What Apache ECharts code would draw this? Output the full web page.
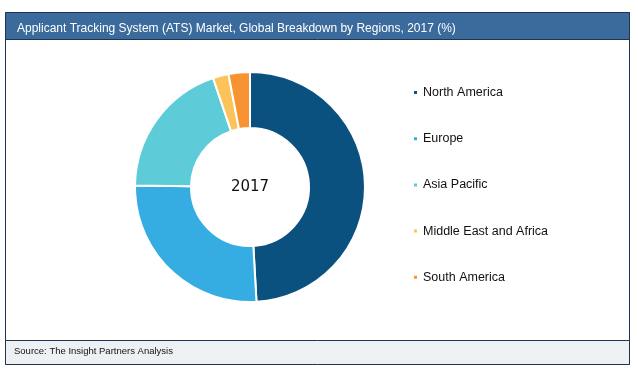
<!DOCTYPE html>
<html>
<head>
<meta charset="utf-8">
<script src="https://cdn.jsdelivr.net/npm/echarts@6/dist/echarts.min.js"></script>
<style>
  html, body { margin: 0; padding: 0; background: #fff; }
  #main { width: 638px; height: 376px; }
</style>
</head>
<body>
<div id="main"></div>
<script>
// regions and their share (%) in 2017
var regions = ['North America', 'Europe', 'Asia Pacific', 'Middle East and Africa', 'South America'];
var shares = [49.1, 26.1, 19.6, 2.2, 3.0];
var colors = ['#0b5180', '#36ade2', '#5dccd8', '#fcc35b', '#f79431'];

var chart = echarts.init(document.getElementById('main'));

var pieData = [];
for (let i = 0; i < regions.length; i++) {
  pieData.push({ name: regions[i], value: shares[i] })
}

var option = {
  animation: false,
  color: colors,
  title: {
    text: 'Applicant Tracking System (ATS) Market, Global Breakdown by Regions, 2017 (%)',
    left: 12,
    top: 18,
    textStyle: {
      color: '#fff',
      fontSize: 12,
      fontWeight: 'normal',
      fontFamily: 'Liberation Sans, Arial'
    }
  },
  graphic: [
    // outer frame
    {
      type: 'rect', z: -10,
      shape: { x: 5.5, y: 12.5, width: 624, height: 352 },
      style: { fill: '#fff', stroke: '#1d3550', lineWidth: 1 }
    },
    // title bar
    {
      type: 'rect', z: -9,
      shape: { x: 5.5, y: 12.5, width: 624, height: 27 },
      style: { fill: '#3b6b9c', stroke: '#1d3550', lineWidth: 1 }
    },
    // footer
    {
      type: 'rect', z: -9,
      shape: { x: 5.5, y: 340.5, width: 624, height: 24 },
      style: { fill: '#eef1f4', stroke: '#1d3550', lineWidth: 1 }
    },
    {
      type: 'text', z: 10,
      left: 14, top: 346,
      style: {
        text: 'Source: The Insight Partners Analysis',
        fill: '#111',
        font: '9.5px "Liberation Sans", Arial'
      }
    },
    {
      type: 'text', z: 10,
      x: 250, y: 187,
      style: {
        text: '2017',
        textAlign: 'center',
        textVerticalAlign: 'middle',
        fill: '#111',
        font: '15px "DejaVu Sans", Verdana, sans-serif'
      }
    }
  ],
  legend: {
    orient: 'vertical',
    left: 412,
    top: 86,
    padding: 0,
    icon: 'rect',
    itemWidth: 5,
    itemHeight: 5,
    itemGap: 33.2,
    textStyle: {
      fontSize: 12.5,
      color: '#111',
      fontFamily: 'Liberation Sans, Arial'
    },
    data: regions
  },
  series: [{
    type: 'pie',
    center: [250, 187],
    radius: [59, 115],
    startAngle: 90,
    clockwise: true,
    label: { show: false },
    labelLine: { show: false },
    itemStyle: { borderColor: '#fff', borderWidth: 2 },
    emphasis: { disabled: true },
    data: pieData
  }]
};
chart.setOption(option);
</script>
</body>
</html>
